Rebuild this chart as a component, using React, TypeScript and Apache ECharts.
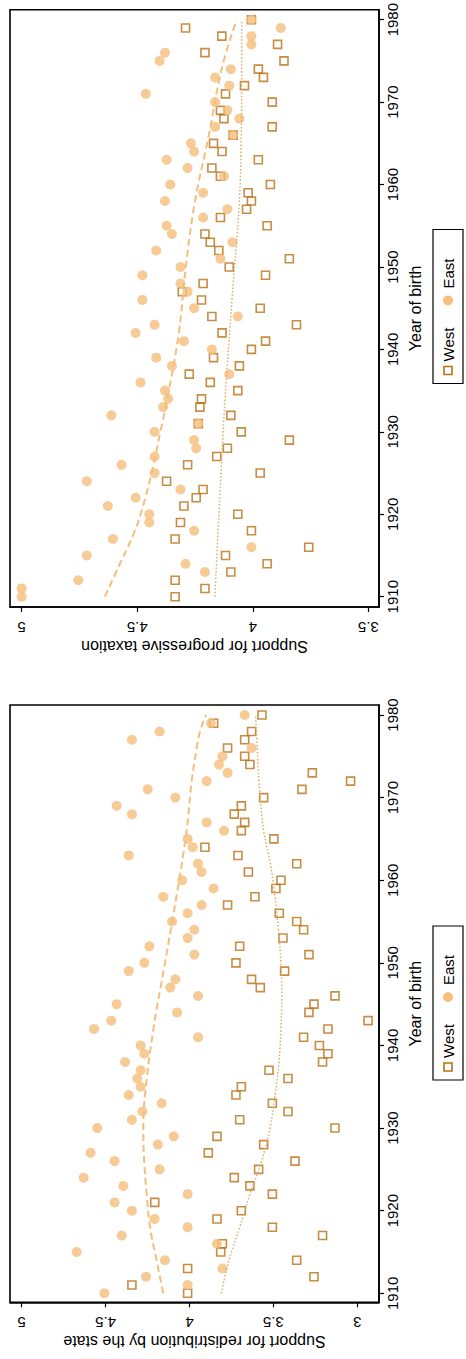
import React, { useEffect, useRef } from "react";
import * as echarts from "echarts";

const years = [
  1910, 1911, 1912, 1913, 1914, 1915, 1916, 1917, 1918, 1919,
  1920, 1921, 1922, 1923, 1924, 1925, 1926, 1927, 1928, 1929,
  1930, 1931, 1932, 1933, 1934, 1935, 1936, 1937, 1938, 1939,
  1940, 1941, 1942, 1943, 1944, 1945, 1946, 1947, 1948, 1949,
  1950, 1951, 1952, 1953, 1954, 1955, 1956, 1957, 1958, 1959,
  1960, 1961, 1962, 1963, 1964, 1965, 1966, 1967, 1968, 1969,
  1970, 1971, 1972, 1973, 1974, 1975, 1976, 1977, 1978, 1979, 1980,
];

// Support for progressive taxation
const taxEast = [
  5.0, 5.0, 4.755, 4.207, 4.291, 4.718, 4.006, 4.605, 4.254, 4.448,
  4.448, 4.627, 4.507, 4.313, 4.718, 4.425, 4.568, 4.425, 4.245, 4.254,
  4.425, 4.236, 4.612, 4.388, 4.366, 4.38, 4.486, 4.102, 4.35, 4.418,
  4.177, 4.298, 4.507, 4.425, 4.065, 4.254, 4.478, 4.282, 4.313, 4.478,
  4.313, 4.14, 4.418, 4.088, 4.35, 4.373, 4.215, 4.11, 4.38, 4.215,
  4.357, 4.125, 4.282, 4.373, 4.254, 4.268, 4.085, 4.163, 4.058, 4.11,
  4.163, 4.463, 4.102, 4.163, 4.095, 4.403, 4.38, 4.006, 4.006, 3.879, 4.006,
];
const taxWest = [
  4.336, 4.207, 4.336, 4.095, 3.938, 4.118, 3.758, 4.336, 4.006, 4.313,
  4.065, 4.298, 4.245, 4.215, 4.373, 3.968, 4.282, 4.156, 4.11, 3.842,
  4.05, 4.236, 4.095, 4.229, 4.222, 4.065, 4.184, 4.275, 4.058, 4.17,
  4.006, 3.945, 4.133, 3.811, 4.177, 3.968, 4.222, 4.305, 4.215, 3.945,
  4.102, 3.842, 4.147, 4.184, 4.207, 3.938, 4.14, 4.027, 4.006, 4.02,
  3.924, 4.14, 4.177, 3.976, 4.133, 4.17, 4.085, 3.916, 4.125, 4.14,
  3.916, 4.118, 4.036, 3.954, 3.976, 3.865, 4.207, 3.893, 4.134, 4.291, 4.006,
];
const taxEastFitYears = [1910, 1914, 1918, 1922, 1926, 1930, 1934, 1942, 1950, 1958, 1966, 1974, 1980];
const taxEastFit = [4.64, 4.575, 4.51, 4.465, 4.43, 4.4, 4.37, 4.32, 4.29, 4.25, 4.19, 4.135, 4.07];
const taxWestFitYears = [1910, 1922, 1934, 1946, 1958, 1966, 1974, 1980];
const taxWestFit = [4.164, 4.143, 4.12, 4.09, 4.058, 4.05, 4.048, 4.048];

// Support for redistribution by the state
const redEast = [
  4.507, 4.011, 4.259, 3.804, 4.146, 4.672, 3.836, 4.404, 4.011, 4.208,
  4.343, 4.446, 4.011, 4.394, 4.631, 4.178, 4.446, 4.589, 4.188, 4.094,
  4.549, 4.343, 4.281, 4.166, 4.362, 4.291, 4.311, 4.291, 4.384, 4.269,
  4.291, 3.949, 4.569, 4.466, 4.074, 4.434, 3.949, 4.114, 4.084, 4.362,
  4.269, 3.971, 4.239, 4.011, 3.971, 4.104, 4.011, 3.928, 4.156, 3.856,
  4.043, 3.928, 3.949, 4.362, 3.981, 4.011, 3.794, 3.898, 4.343, 4.434,
  4.084, 4.249, 3.898, 3.773, 3.824, 3.804, 3.63, 4.343, 4.178, 3.872, 3.671,
];
const redWest = [
  4.011, 4.343, 3.258, 4.011, 3.361, 3.814, 3.804, 3.207, 3.506, 3.836,
  3.691, 4.207, 3.506, 3.64, 3.733, 3.588, 3.371, 3.888, 3.558, 3.836,
  3.133, 3.701, 3.413, 3.506, 3.723, 3.691, 3.413, 3.526, 3.207, 3.175,
  3.226, 3.32, 3.175, 2.936, 3.288, 3.258, 3.133, 3.578, 3.63, 3.433,
  3.723, 3.288, 3.701, 3.443, 3.32, 3.361, 3.465, 3.773, 3.61, 3.485,
  3.455, 3.649, 3.361, 3.711, 3.908, 3.497, 3.691, 3.671, 3.733, 3.691,
  3.558, 3.33, 3.04, 3.268, 3.64, 3.671, 3.773, 3.671, 3.63, 3.856, 3.568,
];
const redEastFitYears = [1910, 1914, 1918, 1922, 1926, 1930, 1934, 1942, 1950, 1958, 1966, 1972, 1976, 1978, 1980];
const redEastFit = [4.156, 4.196, 4.235, 4.255, 4.27, 4.275, 4.265, 4.215, 4.146, 4.078, 4.017, 3.987, 3.957, 3.937, 3.902];
const redWestFitYears = [1910, 1914, 1918, 1922, 1926, 1930, 1934, 1938, 1942, 1946, 1950, 1954, 1958, 1962, 1966, 1972, 1976, 1980];
const redWestFit = [3.81, 3.765, 3.7, 3.64, 3.57, 3.52, 3.49, 3.467, 3.455, 3.45, 3.455, 3.47, 3.49, 3.518, 3.558, 3.586, 3.596, 3.606];

const yearTicks = [1910, 1920, 1930, 1940, 1950, 1960, 1970, 1980];
const taxTicks = [3.5, 4, 4.5, 5];
const redTicks = [3, 3.5, 4, 4.5, 5];
const seriesNames = ["West", "East"];
const axisTitles = ["Support for progressive taxation", "Support for redistribution by the state"];
const yearTitle = "Year of birth";

const FONT = '"Liberation Sans", Arial, Helvetica, sans-serif';
const EAST_COLOR = "#f4be7c";
const WEST_COLOR = "#b97114";
const FIT_WEST_COLOR = "#dcab6c";

export default function App() {
  const ref = useRef<HTMLDivElement>(null);

  useEffect(() => {
    if (!ref.current) return;
    const chart = echarts.init(ref.current, undefined, { renderer: "svg" });

    const pairs = (vals: number[], ys: number[]) => vals.map((v, i) => [v, ys[i]]);

    const xAxisBase = (grid: number, min: number, max: number, ticks: number[], name: string) => ({
      type: "value",
      gridIndex: grid,
      position: "bottom",
      inverse: true,
      min,
      max,
      name,
      nameLocation: "middle",
      nameRotate: 180,
      nameGap: 31,
      nameTextStyle: { fontFamily: FONT, fontSize: 16, color: "#000" },
      splitLine: { show: false },
      axisLine: { show: true, onZero: false, lineStyle: { color: "#000", width: 1.6 } },
      axisTick: { show: true, length: 5, customValues: ticks, lineStyle: { color: "#000", width: 1.2 } },
      axisLabel: {
        show: true,
        rotate: 180,
        margin: 13,
        customValues: ticks,
        formatter: (v: number) => String(v),
        fontFamily: FONT,
        fontSize: 15,
        color: "#000",
      },
    });

    const yAxisBase = (grid: number, min: number, max: number) => ({
      type: "value",
      gridIndex: grid,
      position: "right",
      min,
      max,
      name: yearTitle,
      nameLocation: "middle",
      nameRotate: 90,
      nameGap: 28,
      nameTextStyle: { fontFamily: FONT, fontSize: 16, color: "#000" },
      splitLine: { show: false },
      axisLine: { show: true, onZero: false, lineStyle: { color: "#000", width: 1.6 } },
      axisTick: { show: true, length: 5, customValues: yearTicks, lineStyle: { color: "#000", width: 1.2 } },
      axisLabel: {
        show: true,
        rotate: 90,
        margin: 6,
        customValues: yearTicks,
        formatter: (v: number) => String(v),
        fontFamily: FONT,
        fontSize: 15,
        color: "#000",
      },
    });

    const scatterWest = (idx: number, vals: number[]) => ({
      type: "scatter",
      name: seriesNames[0],
      xAxisIndex: idx,
      yAxisIndex: idx,
      symbol: "rect",
      symbolSize: 8,
      itemStyle: { color: "rgba(255,255,255,0)", borderColor: WEST_COLOR, borderWidth: 1.6 },
      data: pairs(vals, years),
      z: 2,
    });
    const scatterEast = (idx: number, vals: number[]) => ({
      type: "scatter",
      name: seriesNames[1],
      xAxisIndex: idx,
      yAxisIndex: idx,
      symbol: "circle",
      symbolSize: 10,
      itemStyle: { color: EAST_COLOR },
      data: pairs(vals, years),
      z: 3,
    });
    const fitLine = (idx: number, vals: number[], ys: number[], dotted: boolean) => ({
      type: "line",
      xAxisIndex: idx,
      yAxisIndex: idx,
      showSymbol: false,
      symbol: "none",
      smooth: 0.4,
      silent: true,
      lineStyle: dotted
        ? { color: FIT_WEST_COLOR, width: 1.5, type: [1.5, 2] }
        : { color: EAST_COLOR, width: 2, type: [7, 4] },
      data: pairs(vals, ys),
      z: 4,
    });

    const legend = (cx: number, cy: number) => ({
      type: "group",
      x: cx,
      y: cy,
      rotation: Math.PI / 2,
      children: [
        {
          type: "rect",
          shape: { x: -77, y: -15, width: 154, height: 30 },
          style: { fill: "#fff", stroke: "#000", lineWidth: 1.2 },
        },
        {
          type: "rect",
          shape: { x: -68, y: -4, width: 8, height: 8 },
          style: { fill: "rgba(255,255,255,0)", stroke: WEST_COLOR, lineWidth: 1.6 },
        },
        {
          type: "text",
          style: {
            text: seriesNames[0],
            x: -55,
            y: 0,
            font: `15px ${FONT}`,
            fill: "#000",
            textAlign: "left",
            textVerticalAlign: "middle",
          },
        },
        {
          type: "circle",
          shape: { cx: 6, cy: 0, r: 5 },
          style: { fill: EAST_COLOR },
        },
        {
          type: "text",
          style: {
            text: seriesNames[1],
            x: 18,
            y: 0,
            font: `15px ${FONT}`,
            fill: "#000",
            textAlign: "left",
            textVerticalAlign: "middle",
          },
        },
      ],
    });

    chart.setOption({
      animation: false,
      backgroundColor: "#fff",
      grid: [
        { left: 10, top: 8.5, width: 369, height: 598.5, show: true, borderColor: "#000", borderWidth: 1.6, backgroundColor: "#fff" },
        { left: 10, top: 705, width: 369, height: 597.3, show: true, borderColor: "#000", borderWidth: 1.6, backgroundColor: "#fff" },
      ],
      xAxis: [
        xAxisBase(0, 3.454, 5.0505, taxTicks, axisTitles[0]),
        xAxisBase(1, 2.8707, 5.0695, redTicks, axisTitles[1]),
      ],
      yAxis: [yAxisBase(0, 1908.75, 1981.21), yAxisBase(1, 1908.91, 1981.21)],
      series: [
        scatterWest(0, taxWest),
        scatterEast(0, taxEast),
        fitLine(0, taxWestFit, taxWestFitYears, true),
        fitLine(0, taxEastFit, taxEastFitYears, false),
        scatterWest(1, redWest),
        scatterEast(1, redEast),
        fitLine(1, redWestFit, redWestFitYears, true),
        fitLine(1, redEastFit, redEastFitYears, false),
      ],
      graphic: [legend(448, 306.5), legend(448, 1003)],
    });

    return () => chart.dispose();
  }, []);

  return (
    <div
      ref={ref}
      style={{ position: "absolute", left: 0, top: 0, width: 466, height: 1359, background: "#fff" }}
    />
  );
}
